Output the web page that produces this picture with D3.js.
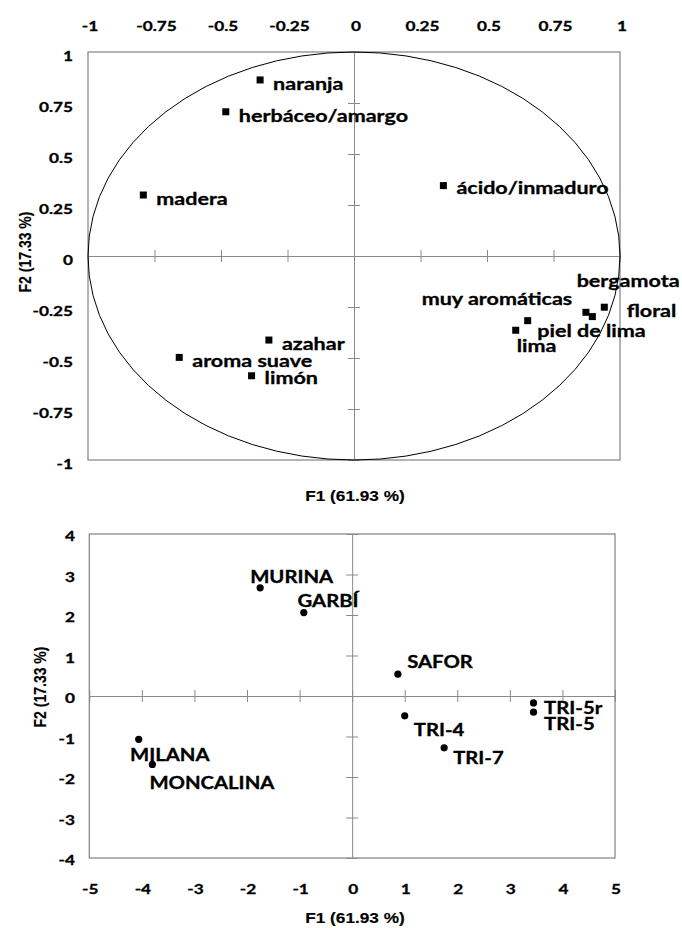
<!DOCTYPE html>
<html><head><meta charset="utf-8">
<script src="https://cdn.jsdelivr.net/npm/d3@7"></script>
<style>body{margin:0;background:#fff} svg{display:block}</style>
</head><body>
<svg id="c" width="682" height="928"></svg>
<script>
// ---------- DATA ----------
const varNames = ["naranja","herbáceo/amargo","madera","ácido/inmaduro","muy aromáticas","lima","bergamota","piel de lima","floral","azahar","aroma suave","limón"];
const varF1 = [-0.353,-0.482,-0.792,0.336,0.653,0.608,0.872,0.896,0.941,-0.320,-0.657,-0.385];
const varF2 = [0.863,0.707,0.299,0.345,-0.317,-0.364,-0.276,-0.297,-0.251,-0.412,-0.497,-0.587];

const obsNames = ["MURINA","GARBÍ","SAFOR","TRI-4","TRI-5r","TRI-5","TRI-7","MILANA","MONCALINA"];
const obsF1 = [-1.75,-0.92,0.87,1.00,3.45,3.45,1.75,-4.06,-3.80];
const obsF2 = [2.67,2.06,0.54,-0.49,-0.17,-0.40,-1.28,-1.07,-1.69];

const corTicks = [-1,-0.75,-0.5,-0.25,0,0.25,0.5,0.75,1];
const obsXTicks = [-5,-4,-3,-2,-1,0,1,2,3,4,5];
const obsYTicks = [-4,-3,-2,-1,0,1,2,3,4];
const titleX = "F1 (61.93 %)";
const titleY = "F2 (17.33 %)";

// ---------- LAYOUT ----------
const SX = 1.23;               // horizontal text stretch of the reference
const GRAY = "#8a8a8a";
const LBL_FONT = "Lato, 'Open Sans', sans-serif";
const TITLE_FONT = "'Liberation Sans', Arial, sans-serif";
const varLabelOffset = {
  "naranja":[13,10], "herbáceo/amargo":[13,10], "madera":[13,10], "ácido/inmaduro":[13,8.6],
  "muy aromáticas":[-106,-15.7], "lima":[1,22], "bergamota":[-9.3,-25.6], "piel de lima":[-55,20.6],
  "floral":[22.4,9.4], "azahar":[13,10], "aroma suave":[13,10], "limón":[13,8.6]
};
const obsLabelOffset = {
  "MURINA":[-10,-5.3], "GARBÍ":[-6.3,-5.4], "SAFOR":[9.3,-6], "TRI-4":[9,20.5], "TRI-5r":[10.6,11],
  "TRI-5":[10.6,18], "TRI-7":[9,16.3], "MILANA":[-8.7,21.7], "MONCALINA":[-3,25]
};

const svg = d3.select("#c");

function txt(g, x, y, s, o = {}) {
  return g.append("text")
    .attr("transform", `translate(${x},${y}) scale(${SX},1)` + (o.rotate ? ` rotate(${o.rotate})` : ""))
    .attr("text-anchor", o.anchor || "start")
    .attr("dominant-baseline", o.baseline || "auto")
    .attr("font-family", o.family || LBL_FONT)
    .attr("font-weight", "bold")
    .attr("font-size", o.size || 14)
    .attr("fill", "#000")
    .attr("stroke", "#000")
    .attr("stroke-width", o.sw == null ? 0.3 : o.sw)
    .text(s);
}

function frame(g, x, y, xt, yt) {
  const [x0, x1] = x.range(), [y1, y0] = y.range();
  const ax = g.append("g").attr("transform", `translate(0,${y(0)})`)
    .call(d3.axisBottom(x).tickValues(xt).tickFormat("").tickSizeOuter(0));
  const ay = g.append("g").attr("transform", `translate(${x(0)},0)`)
    .call(d3.axisLeft(y).tickValues(yt).tickFormat("").tickSizeOuter(0));
  ax.selectAll(".tick line").attr("y1", -6).attr("y2", 6);
  ay.selectAll(".tick line").attr("x1", -6).attr("x2", 6);
  [ax, ay].forEach(a => { a.selectAll("path,line").attr("stroke", GRAY).attr("stroke-width", 1); });
  g.append("rect").attr("x", x0).attr("y", y0).attr("width", x1 - x0).attr("height", y1 - y0)
    .attr("fill", "none").attr("stroke", GRAY).attr("stroke-width", 1.3);
}

// ---------- TOP: correlation circle ----------
const xTop = d3.scaleLinear().domain([-1, 1]).range([88, 620]);
const yTop = d3.scaleLinear().domain([-1, 1]).range([460, 52]);
const gT = svg.append("g");
frame(gT, xTop, yTop, corTicks, corTicks);
gT.append("ellipse").attr("cx", xTop(0)).attr("cy", yTop(0))
  .attr("rx", xTop(1) - xTop(0)).attr("ry", yTop(0) - yTop(1))
  .attr("fill", "none").attr("stroke", "#000").attr("stroke-width", 1);

corTicks.forEach(v => txt(gT, xTop(v) + 2, 26, String(v), {anchor: "middle", baseline: "central", size: 14}));
corTicks.forEach(v => txt(gT, 73, yTop(v) + 3.5, String(v), {anchor: "end", baseline: "central", size: 14}));
txt(gT, 355, 496, titleX, {anchor: "middle", baseline: "central", size: 14, family: TITLE_FONT, sw: 0.15});
txt(gT, 25, 252, titleY, {anchor: "middle", baseline: "central", size: 14, family: TITLE_FONT, rotate: -90, sw: 0.15});

varNames.forEach((n, i) => {
  const px = xTop(varF1[i]), py = yTop(varF2[i]);
  gT.append("rect").attr("x", px - 3.5).attr("y", py - 3.5).attr("width", 7).attr("height", 7).attr("fill", "#000");
  const [dx, dy] = varLabelOffset[n];
  txt(gT, px + dx, py + dy, n, {size: 17.5});
});

// ---------- BOTTOM: observations ----------
const xBot = d3.scaleLinear().domain([-5, 5]).range([89.3, 615]);
const yBot = d3.scaleLinear().domain([-4, 4]).range([858, 534]);
const gB = svg.append("g");
frame(gB, xBot, yBot, obsXTicks, obsYTicks);
obsXTicks.forEach(v => txt(gB, xBot(v) + 1, 889, String(v), {anchor: "middle", baseline: "central", size: 14}));
obsYTicks.forEach(v => txt(gB, 75, yBot(v) + 2, String(v), {anchor: "end", baseline: "central", size: 14}));
txt(gB, 355, 918, titleX, {anchor: "middle", baseline: "central", size: 14, family: TITLE_FONT, sw: 0.15});
txt(gB, 40, 687, titleY, {anchor: "middle", baseline: "central", size: 14, family: TITLE_FONT, rotate: -90, sw: 0.15});

obsNames.forEach((n, i) => {
  const px = xBot(obsF1[i]), py = yBot(obsF2[i]);
  gB.append("circle").attr("cx", px).attr("cy", py).attr("r", 3.6).attr("fill", "#000");
  const [dx, dy] = obsLabelOffset[n];
  txt(gB, px + dx, py + dy, n, {size: 16.5});
});
</script>
</body></html>
